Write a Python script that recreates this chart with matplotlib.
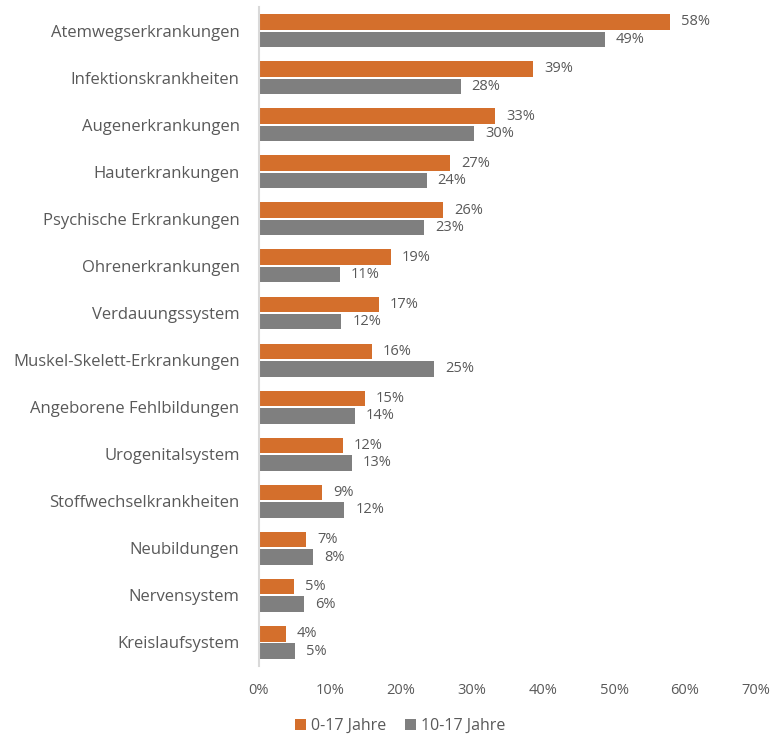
import matplotlib
matplotlib.use("Agg")
import matplotlib.pyplot as plt
import numpy as np

categories = ["Atemwegserkrankungen", "Infektionskrankheiten", "Augenerkrankungen",
              "Hauterkrankungen", "Psychische Erkrankungen", "Ohrenerkrankungen",
              "Verdauungssystem", "Muskel-Skelett-Erkrankungen", "Angeborene Fehlbildungen",
              "Urogenitalsystem", "Stoffwechselkrankheiten", "Neubildungen",
              "Nervensystem", "Kreislaufsystem"]
series_0_17 = [57.9, 38.6, 33.2, 26.9, 25.9, 18.6, 16.9, 15.9, 14.9, 11.8, 8.9, 6.6, 4.9, 3.8]
series_10_17 = [48.7, 28.4, 30.3, 23.6, 23.3, 11.4, 11.6, 24.6, 13.5, 13.1, 12.0, 7.6, 6.3, 5.1]
series_names = ["0-17 Jahre", "10-17 Jahre"]
xticks = [0, 10, 20, 30, 40, 50, 60, 70]

plt.rcParams['font.family'] = ['Open Sans', 'DejaVu Sans']
txt = "#595959"
c_orange = "#D46F2C"
c_gray = "#7F7F7F"

fig = plt.figure(figsize=(7.77, 7.34), dpi=100)
ax = fig.add_axes([0.3333, 0.0926, 0.6397, 0.8978])

n = len(categories)
y = np.arange(n)
h = 0.33
ax.barh(y - h / 2 - 0.02, series_0_17, height=h, color=c_orange, label=series_names[0])
ax.barh(y + h / 2 + 0.02, series_10_17, height=h, color=c_gray, label=series_names[1])

for yi, v in zip(y, series_0_17):
    ax.annotate(f"{v:.0f}%", (v, yi - h / 2 - 0.02), xytext=(8, 0), textcoords="offset points",
                va="center", ha="left", fontsize=10.5, color=txt)
for yi, v in zip(y, series_10_17):
    ax.annotate(f"{v:.0f}%", (v, yi + h / 2 + 0.02), xytext=(8, 0), textcoords="offset points",
                va="center", ha="left", fontsize=10.5, color=txt)

ax.set_ylim(n - 0.5, -0.5)
ax.set_xlim(0, 70)
ax.set_yticks(y)
ax.set_yticklabels(categories, fontsize=12, color=txt)
ax.set_xticks(xticks)
ax.set_xticklabels([f"{t}%" for t in xticks], fontsize=10.5, color=txt)
ax.tick_params(axis='both', length=0)
ax.tick_params(axis='y', pad=14)
ax.tick_params(axis='x', pad=12)
for s in ["top", "right", "bottom"]:
    ax.spines[s].set_visible(False)
ax.spines["left"].set_color("#D9D9D9")
ax.spines["left"].set_linewidth(1.5)

fig.legend(loc="center", bbox_to_anchor=(0.515, 0.011), ncol=2, frameon=False,
           fontsize=11.5, handlelength=0.7, handleheight=0.7, handletextpad=0.3,
           columnspacing=1.2, labelcolor=txt, borderaxespad=0)

fig.savefig("out.png", dpi=100, facecolor="white")
